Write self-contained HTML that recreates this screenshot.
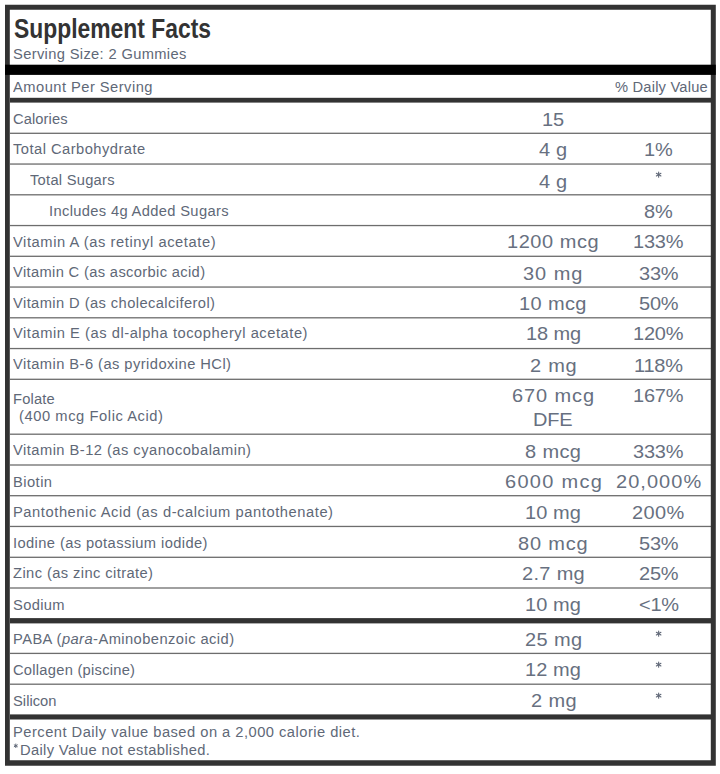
<!DOCTYPE html>
<html><head><meta charset="utf-8"><style>
html,body{margin:0;padding:0;background:#fff;width:720px;height:774px;overflow:hidden}
body{position:relative;font-family:"Liberation Sans",sans-serif;color:#606877}
.box{position:absolute;left:5px;top:5px;width:711px;height:761px;border:5px solid #333;box-sizing:border-box}
.ln{position:absolute;left:10px;width:701px;height:1px;background:#777}
.bar{position:absolute;left:10px;width:701px}
.t{position:absolute;white-space:nowrap;transform-origin:0 0}
.title{position:absolute;left:0;top:0;font-weight:bold;color:#333;white-space:nowrap;transform-origin:0 0}
</style></head><body>
<div class="title" style="left:14.00px;top:15px;font-size:27.5px;line-height:27.5px;transform:scaleX(0.8318)">Supplement Facts</div>
<svg style="position:absolute;left:0;top:0" width="720" height="774" viewBox="0 0 720 774"><rect x="10" y="132.65" width="701" height="1.3" fill="#6d6d6d"/><rect x="10" y="163.40" width="701" height="1.3" fill="#6d6d6d"/><rect x="10" y="194.15" width="701" height="1.3" fill="#6d6d6d"/><rect x="10" y="224.90" width="701" height="1.3" fill="#6d6d6d"/><rect x="10" y="255.65" width="701" height="1.3" fill="#6d6d6d"/><rect x="10" y="286.40" width="701" height="1.3" fill="#6d6d6d"/><rect x="10" y="317.15" width="701" height="1.3" fill="#6d6d6d"/><rect x="10" y="347.90" width="701" height="1.3" fill="#6d6d6d"/><rect x="10" y="378.65" width="701" height="1.3" fill="#6d6d6d"/><rect x="10" y="433.55" width="701" height="1.3" fill="#6d6d6d"/><rect x="10" y="464.35" width="701" height="1.3" fill="#6d6d6d"/><rect x="10" y="495.05" width="701" height="1.3" fill="#6d6d6d"/><rect x="10" y="525.80" width="701" height="1.3" fill="#6d6d6d"/><rect x="10" y="556.65" width="701" height="1.3" fill="#6d6d6d"/><rect x="10" y="587.35" width="701" height="1.3" fill="#6d6d6d"/><rect x="10" y="652.75" width="701" height="1.3" fill="#6d6d6d"/><rect x="10" y="683.55" width="701" height="1.3" fill="#6d6d6d"/><rect x="10" y="97.8" width="701" height="4.8" fill="#333"/><rect x="10" y="618.1" width="701" height="5.3" fill="#333"/><rect x="10" y="714.4" width="701" height="5.1" fill="#333"/><path fill="#333" fill-rule="evenodd" d="M5 4.7H715.8V765.7H5Z M9.8 9.7V760.2H710.8V9.7Z"/><rect x="5" y="64.7" width="710.8" height="10.2" fill="#000"/></svg>
<div class="t" style="left:12.70px;top:47px;font-size:14px;line-height:14px;letter-spacing:0.323px;transform:scaleX(1.05)">Serving Size: 2 Gummies</div>
<div class="t" style="left:13.00px;top:80px;font-size:14px;line-height:14px;letter-spacing:0.445px;transform:scaleX(1.05)">Amount Per Serving</div>
<div class="t" style="left:615.00px;top:80px;font-size:14px;line-height:14px;letter-spacing:0.182px;transform:scaleX(1.05)">% Daily Value</div>
<div class="t" style="left:13.00px;top:112px;font-size:14px;line-height:14px;letter-spacing:0.079px;transform:scaleX(1.05)">Calories</div>
<div class="t" style="left:542.43px;top:111px;font-size:18.5px;line-height:18.5px;letter-spacing:-0.200px;transform:scaleX(1.08);color:#677080">15</div>
<div class="t" style="left:13.30px;top:142px;font-size:14px;line-height:14px;letter-spacing:0.447px;transform:scaleX(1.05)">Total Carbohydrate</div>
<div class="t" style="left:539.30px;top:141px;font-size:18.5px;line-height:18.5px;letter-spacing:0.113px;transform:scaleX(1.08);color:#677080">4 g</div>
<div class="t" style="left:643.86px;top:141px;font-size:18.5px;line-height:18.5px;letter-spacing:-0.200px;transform:scaleX(1.08);color:#677080">1%</div>
<div class="t" style="left:30.00px;top:173px;font-size:14px;line-height:14px;letter-spacing:0.243px;transform:scaleX(1.05)">Total Sugars</div>
<div class="t" style="left:539.30px;top:173px;font-size:18.5px;line-height:18.5px;letter-spacing:0.113px;transform:scaleX(1.08);color:#677080">4 g</div>
<svg style="position:absolute;left:655.70px;top:172.35px;overflow:visible" width="5.3" height="5.3" viewBox="0 0 5.3 5.3"><g stroke="#606877" stroke-width="1.1" stroke-linecap="round"><line x1="2.65" y1="0.00" x2="2.65" y2="5.30"/><line x1="0.36" y1="1.33" x2="4.94" y2="3.97"/><line x1="0.36" y1="3.97" x2="4.94" y2="1.33"/></g></svg>
<div class="t" style="left:48.50px;top:204px;font-size:14px;line-height:14px;letter-spacing:0.326px;transform:scaleX(1.05)">Includes 4g Added Sugars</div>
<div class="t" style="left:644.36px;top:203px;font-size:18.5px;line-height:18.5px;letter-spacing:-0.200px;transform:scaleX(1.08);color:#677080">8%</div>
<div class="t" style="left:13.00px;top:235px;font-size:14px;line-height:14px;letter-spacing:0.542px;transform:scaleX(1.05)">Vitamin A (as retinyl acetate)</div>
<div class="t" style="left:507.30px;top:233px;font-size:18.5px;line-height:18.5px;letter-spacing:0.522px;transform:scaleX(1.08);color:#677080">1200 mcg</div>
<div class="t" style="left:633.43px;top:233px;font-size:18.5px;line-height:18.5px;letter-spacing:-0.200px;transform:scaleX(1.08);color:#677080">133%</div>
<div class="t" style="left:13.00px;top:265px;font-size:14px;line-height:14px;letter-spacing:0.328px;transform:scaleX(1.05)">Vitamin C (as ascorbic acid)</div>
<div class="t" style="left:523.30px;top:265px;font-size:18.5px;line-height:18.5px;letter-spacing:0.900px;transform:scaleX(1.08);color:#677080">30 mg</div>
<div class="t" style="left:638.71px;top:265px;font-size:18.5px;line-height:18.5px;letter-spacing:-0.200px;transform:scaleX(1.08);color:#677080">33%</div>
<div class="t" style="left:13.00px;top:296px;font-size:14px;line-height:14px;letter-spacing:0.391px;transform:scaleX(1.05)">Vitamin D (as cholecalciferol)</div>
<div class="t" style="left:519.30px;top:295px;font-size:18.5px;line-height:18.5px;letter-spacing:0.351px;transform:scaleX(1.08);color:#677080">10 mcg</div>
<div class="t" style="left:639.01px;top:295px;font-size:18.5px;line-height:18.5px;letter-spacing:-0.200px;transform:scaleX(1.08);color:#677080">50%</div>
<div class="t" style="left:13.00px;top:326px;font-size:14px;line-height:14px;letter-spacing:0.508px;transform:scaleX(1.05)">Vitamin E (as dl-alpha tocopheryl acetate)</div>
<div class="t" style="left:525.70px;top:325px;font-size:18.5px;line-height:18.5px;letter-spacing:-0.119px;transform:scaleX(1.08);color:#677080">18 mg</div>
<div class="t" style="left:633.43px;top:325px;font-size:18.5px;line-height:18.5px;letter-spacing:-0.200px;transform:scaleX(1.08);color:#677080">120%</div>
<div class="t" style="left:13.00px;top:357px;font-size:14px;line-height:14px;letter-spacing:0.419px;transform:scaleX(1.05)">Vitamin B-6 (as pyridoxine HCl)</div>
<div class="t" style="left:530.00px;top:357px;font-size:18.5px;line-height:18.5px;letter-spacing:0.697px;transform:scaleX(1.08);color:#677080">2 mg</div>
<div class="t" style="left:634.36px;top:357px;font-size:18.5px;line-height:18.5px;letter-spacing:-0.200px;transform:scaleX(1.08);color:#677080">118%</div>
<div class="t" style="left:13.00px;top:443px;font-size:14px;line-height:14px;letter-spacing:0.442px;transform:scaleX(1.05)">Vitamin B-12 (as cyanocobalamin)</div>
<div class="t" style="left:525.00px;top:443px;font-size:18.5px;line-height:18.5px;letter-spacing:0.363px;transform:scaleX(1.08);color:#677080">8 mcg</div>
<div class="t" style="left:633.43px;top:443px;font-size:18.5px;line-height:18.5px;letter-spacing:-0.200px;transform:scaleX(1.08);color:#677080">333%</div>
<div class="t" style="left:13.00px;top:475px;font-size:14px;line-height:14px;letter-spacing:0.429px;transform:scaleX(1.05)">Biotin</div>
<div class="t" style="left:505.20px;top:473px;font-size:18.5px;line-height:18.5px;letter-spacing:1.197px;transform:scaleX(1.08);color:#677080">6000 mcg</div>
<div class="t" style="left:616.00px;top:473px;font-size:18.5px;line-height:18.5px;letter-spacing:0.973px;transform:scaleX(1.08);color:#677080">20,000%</div>
<div class="t" style="left:13.00px;top:505px;font-size:14px;line-height:14px;letter-spacing:0.536px;transform:scaleX(1.05)">Pantothenic Acid (as d-calcium pantothenate)</div>
<div class="t" style="left:525.30px;top:504px;font-size:18.5px;line-height:18.5px;letter-spacing:0.090px;transform:scaleX(1.08);color:#677080">10 mg</div>
<div class="t" style="left:632.40px;top:504px;font-size:18.5px;line-height:18.5px;letter-spacing:0.375px;transform:scaleX(1.08);color:#677080">200%</div>
<div class="t" style="left:13.00px;top:536px;font-size:14px;line-height:14px;letter-spacing:0.375px;transform:scaleX(1.05)">Iodine (as potassium iodide)</div>
<div class="t" style="left:518.40px;top:535px;font-size:18.5px;line-height:18.5px;letter-spacing:0.777px;transform:scaleX(1.08);color:#677080">80 mcg</div>
<div class="t" style="left:638.76px;top:535px;font-size:18.5px;line-height:18.5px;letter-spacing:-0.200px;transform:scaleX(1.08);color:#677080">53%</div>
<div class="t" style="left:13.00px;top:566px;font-size:14px;line-height:14px;letter-spacing:0.385px;transform:scaleX(1.05)">Zinc (as zinc citrate)</div>
<div class="t" style="left:521.90px;top:565px;font-size:18.5px;line-height:18.5px;letter-spacing:0.301px;transform:scaleX(1.08);color:#677080">2.7 mg</div>
<div class="t" style="left:638.76px;top:565px;font-size:18.5px;line-height:18.5px;letter-spacing:-0.200px;transform:scaleX(1.08);color:#677080">25%</div>
<div class="t" style="left:13.00px;top:598px;font-size:14px;line-height:14px;letter-spacing:0.320px;transform:scaleX(1.05)">Sodium</div>
<div class="t" style="left:525.30px;top:596px;font-size:18.5px;line-height:18.5px;letter-spacing:0.090px;transform:scaleX(1.08);color:#677080">10 mg</div>
<div class="t" style="left:638.84px;top:596px;font-size:18.5px;line-height:18.5px;letter-spacing:-0.200px;transform:scaleX(1.08);color:#677080"><1%</div>
<div class="t" style="left:13.00px;top:632px;font-size:14px;line-height:14px;letter-spacing:0.412px;transform:scaleX(1.05)">PABA (<i>para</i>-Aminobenzoic acid)</div>
<div class="t" style="left:524.60px;top:631px;font-size:18.5px;line-height:18.5px;letter-spacing:0.391px;transform:scaleX(1.08);color:#677080">25 mg</div>
<svg style="position:absolute;left:655.70px;top:631.15px;overflow:visible" width="5.3" height="5.3" viewBox="0 0 5.3 5.3"><g stroke="#606877" stroke-width="1.1" stroke-linecap="round"><line x1="2.65" y1="0.00" x2="2.65" y2="5.30"/><line x1="0.36" y1="1.33" x2="4.94" y2="3.97"/><line x1="0.36" y1="3.97" x2="4.94" y2="1.33"/></g></svg>
<div class="t" style="left:13.00px;top:663px;font-size:14px;line-height:14px;letter-spacing:0.244px;transform:scaleX(1.05)">Collagen (piscine)</div>
<div class="t" style="left:525.30px;top:661px;font-size:18.5px;line-height:18.5px;letter-spacing:0.090px;transform:scaleX(1.08);color:#677080">12 mg</div>
<svg style="position:absolute;left:655.70px;top:662.15px;overflow:visible" width="5.3" height="5.3" viewBox="0 0 5.3 5.3"><g stroke="#606877" stroke-width="1.1" stroke-linecap="round"><line x1="2.65" y1="0.00" x2="2.65" y2="5.30"/><line x1="0.36" y1="1.33" x2="4.94" y2="3.97"/><line x1="0.36" y1="3.97" x2="4.94" y2="1.33"/></g></svg>
<div class="t" style="left:13.00px;top:694px;font-size:14px;line-height:14px;letter-spacing:0.030px;transform:scaleX(1.05)">Silicon</div>
<div class="t" style="left:530.60px;top:692px;font-size:18.5px;line-height:18.5px;letter-spacing:0.388px;transform:scaleX(1.08);color:#677080">2 mg</div>
<svg style="position:absolute;left:655.70px;top:693.15px;overflow:visible" width="5.3" height="5.3" viewBox="0 0 5.3 5.3"><g stroke="#606877" stroke-width="1.1" stroke-linecap="round"><line x1="2.65" y1="0.00" x2="2.65" y2="5.30"/><line x1="0.36" y1="1.33" x2="4.94" y2="3.97"/><line x1="0.36" y1="3.97" x2="4.94" y2="1.33"/></g></svg>
<div class="t" style="left:13.30px;top:392px;font-size:14px;line-height:14px;letter-spacing:0.163px;transform:scaleX(1.05)">Folate</div>
<div class="t" style="left:19.00px;top:409px;font-size:14px;line-height:14px;letter-spacing:0.544px;transform:scaleX(1.05)">(400 mcg Folic Acid)</div>
<div class="t" style="left:512.00px;top:387px;font-size:18.5px;line-height:18.5px;letter-spacing:0.829px;transform:scaleX(1.08);color:#677080">670 mcg</div>
<div class="t" style="left:533.19px;top:411px;font-size:18.5px;line-height:18.5px;letter-spacing:-0.200px;transform:scaleX(1.08);color:#677080">DFE</div>
<div class="t" style="left:633.43px;top:387px;font-size:18.5px;line-height:18.5px;letter-spacing:-0.200px;transform:scaleX(1.08);color:#677080">167%</div>
<div class="t" style="left:13.10px;top:725px;font-size:14px;line-height:14px;letter-spacing:0.453px;transform:scaleX(1.05)">Percent Daily value based on a 2,000 calorie diet.</div>
<svg style="position:absolute;left:14.10px;top:744.10px;overflow:visible" width="3.6" height="3.6" viewBox="0 0 3.6 3.6"><g stroke="#606877" stroke-width="1.0" stroke-linecap="round"><line x1="1.80" y1="0.00" x2="1.80" y2="3.60"/><line x1="0.24" y1="0.90" x2="3.36" y2="2.70"/><line x1="0.24" y1="2.70" x2="3.36" y2="0.90"/></g></svg>
<div class="t" style="left:20.20px;top:743px;font-size:14px;line-height:14px;letter-spacing:0.334px;transform:scaleX(1.05)">Daily Value not established.</div>
</body></html>
